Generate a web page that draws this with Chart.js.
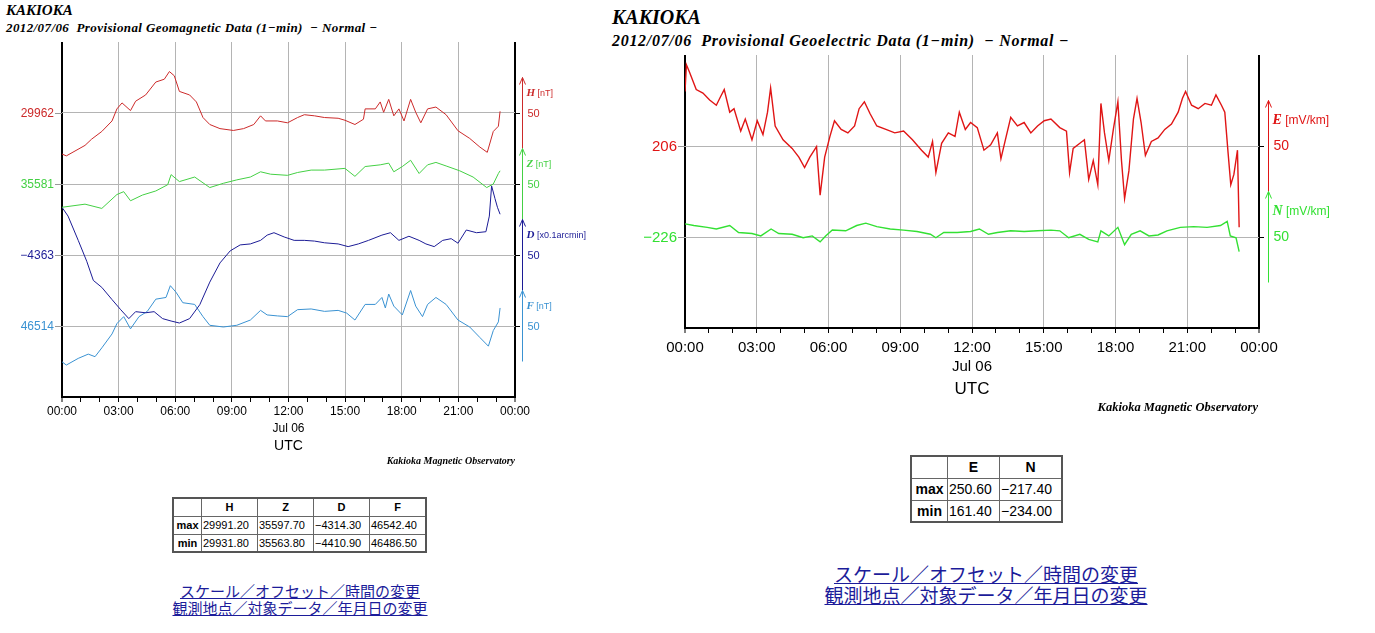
<!DOCTYPE html>
<html>
<head>
<meta charset="utf-8">
<script src="https://cdn.jsdelivr.net/npm/chart.js@4.4.1/dist/chart.umd.min.js"></script>
<style>
  body { margin: 0; background: #fff; width: 1375px; height: 633px; overflow: hidden; position: relative;
         font-family: "Liberation Sans", Arial, sans-serif; }
  .abs { position: absolute; white-space: pre; }
  .serif { font-family: "Liberation Serif", "Times New Roman", serif; font-weight: bold; font-style: italic; color: #000; line-height: 1; }
  canvas { position: absolute; top: 0; }
  table.stats { position: absolute; border-collapse: collapse; border: 2px solid #555; color: #000; }
  table.stats td { border: 1px solid #666; padding: 0 1px; white-space: nowrap; }
  table.stats .hd { font-weight: bold; text-align: center; }
  .links { position: absolute; text-align: center; font-family: "Noto Sans CJK JP", sans-serif; color: #1c1c9a; white-space: nowrap; }
  .links a { color: #1c1c9a; text-decoration: underline; }
</style>
</head>
<body>

<div class="abs serif" style="left:6px; top:3px; font-size:15px;">KAKIOKA</div>
<div class="abs serif" style="left:6px; top:21px; font-size:13px; letter-spacing:0.4px;">2012/07/06  Provisional Geomagnetic Data (1−min)  − Normal −</div>
<canvas id="geomag" width="600" height="480" style="left:0px"></canvas>
<div class="abs serif" style="left:315px; top:456px; font-size:10px; width:200px; text-align:right;">Kakioka Magnetic Observatory</div>

<div class="abs serif" style="left:612px; top:7px; font-size:20px;">KAKIOKA</div>
<div class="abs serif" style="left:612px; top:33px; font-size:16px; letter-spacing:0.7px;">2012/07/06  Provisional Geoelectric Data (1−min)  − Normal −</div>
<canvas id="geoelec" width="760" height="430" style="left:600px"></canvas>
<div class="abs serif" style="left:1008px; top:401px; font-size:12.5px; width:250px; text-align:right;">Kakioka Magnetic Observatory</div>

<table class="stats" style="left:172px; top:497px; font-size:11px;">
  <tr style="height:18px"><td style="width:25px"></td><td class="hd" style="width:53px">H</td><td class="hd" style="width:53px">Z</td><td class="hd" style="width:53px">D</td><td class="hd" style="width:53px">F</td></tr>
  <tr style="height:18px"><td class="hd">max</td><td>29991.20</td><td>35597.70</td><td>−4314.30</td><td>46542.40</td></tr>
  <tr style="height:18px"><td class="hd">min</td><td>29931.80</td><td>35563.80</td><td>−4410.90</td><td>46486.50</td></tr>
</table>

<table class="stats" style="left:910px; top:455px; font-size:14px;">
  <tr style="height:22px"><td style="width:33px"></td><td class="hd" style="width:49px">E</td><td class="hd" style="width:59px">N</td></tr>
  <tr style="height:22px"><td class="hd">max</td><td>250.60</td><td>−217.40</td></tr>
  <tr style="height:22px"><td class="hd">min</td><td>161.40</td><td>−234.00</td></tr>
</table>

<div class="links" style="left:150px; width:300px; top:582px; font-size:15px; line-height:17px;">
  <a>スケール／オフセット／時間の変更</a><br><a>観測地点／対象データ／年月日の変更</a>
</div>
<div class="links" style="left:786px; width:400px; top:563px; font-size:19px; line-height:21px;">
  <a>スケール／オフセット／時間の変更</a><br><a>観測地点／対象データ／年月日の変更</a>
</div>

<script>
// ---- geomagnetic data (hours UTC, values) ----
const hTime = [0, 0.23, 1.22, 1.57, 2.11, 2.65, 2.91, 3.18, 3.63, 3.90, 4.43, 4.97, 5.42, 5.69, 5.95, 6.22, 6.76, 7.12, 7.47, 7.83, 8.37, 9.08, 9.62, 10.16, 10.52, 10.78, 11.41, 11.95, 12.48, 12.84, 13.38, 13.91, 14.63, 14.99, 15.52, 15.97, 16.06, 16.60, 16.86, 17.04, 17.31, 17.58, 17.85, 18.12, 18.47, 18.74, 19.01, 19.37, 19.81, 20.35, 20.98, 21.60, 22.14, 22.53, 22.85, 23.12, 23.21];
const hVal = [29933.1, 29931.8, 29939.2, 29943.6, 29949.0, 29956.4, 29964.9, 29969.1, 29963.7, 29970.3, 29974.7, 29983.8, 29985.8, 29991.2, 29988.2, 29977.2, 29974.7, 29969.8, 29958.8, 29953.9, 29951.0, 29949.7, 29951.0, 29953.9, 29960.0, 29956.4, 29956.4, 29955.1, 29958.8, 29960.8, 29960.0, 29958.8, 29958.3, 29956.9, 29953.9, 29957.6, 29964.9, 29964.9, 29969.8, 29962.5, 29971.6, 29960.0, 29964.9, 29956.4, 29971.6, 29962.5, 29955.1, 29964.9, 29966.2, 29960.8, 29949.5, 29944.1, 29938.0, 29934.3, 29949.0, 29952.7, 29963.2];

const zTime = [0, 1.22, 2.11, 2.91, 3.27, 3.63, 4.26, 4.97, 5.60, 5.78, 6.22, 7.03, 7.83, 8.55, 9.26, 9.98, 10.52, 11.05, 11.95, 12.48, 13.20, 13.91, 14.99, 15.52, 16.06, 16.86, 17.31, 17.58, 18.03, 18.47, 18.92, 19.37, 19.81, 20.35, 21.07, 21.78, 22.50, 22.85, 23.12, 23.21];
const zVal = [35564.6, 35566.8, 35563.8, 35573.6, 35575.6, 35569.2, 35573.2, 35576.1, 35580.5, 35587.6, 35582.7, 35585.9, 35578.5, 35581.5, 35583.9, 35585.9, 35589.6, 35587.9, 35587.1, 35589.1, 35590.8, 35590.8, 35592.0, 35586.4, 35593.3, 35594.5, 35595.7, 35589.6, 35593.3, 35597.7, 35588.4, 35594.5, 35596.2, 35593.7, 35590.3, 35585.9, 35578.5, 35581.0, 35588.4, 35590.3];

const dTime = [0, 0.32, 0.86, 1.31, 1.66, 2.11, 2.65, 3.09, 3.54, 3.90, 4.43, 4.88, 5.33, 5.78, 6.22, 6.76, 7.30, 7.83, 8.37, 8.91, 9.44, 9.98, 10.52, 10.87, 11.23, 11.77, 12.30, 12.84, 13.38, 13.91, 14.63, 15.16, 15.70, 16.24, 16.95, 17.40, 17.85, 18.38, 18.92, 19.28, 19.72, 20.17, 20.62, 20.98, 21.42, 21.96, 22.46, 22.64, 22.76, 22.94, 23.07, 23.21];
const dVal = [-4329.4, -4335.6, -4352.7, -4367.4, -4380.9, -4385.8, -4394.4, -4401.2, -4407.8, -4402.9, -4403.7, -4402.9, -4407.8, -4409.5, -4410.9, -4407.8, -4398.0, -4382.1, -4368.6, -4360.1, -4355.9, -4355.2, -4352.7, -4349.0, -4347.3, -4350.3, -4352.7, -4352.7, -4353.2, -4354.4, -4355.2, -4357.1, -4355.2, -4352.7, -4349.0, -4347.3, -4352.7, -4349.8, -4352.7, -4355.2, -4357.1, -4352.7, -4351.5, -4354.7, -4345.4, -4347.3, -4346.6, -4335.6, -4314.3, -4323.3, -4329.4, -4334.3];

const fTime = [0, 0.23, 0.86, 1.39, 1.75, 2.11, 2.65, 2.91, 3.27, 3.63, 4.08, 4.52, 4.97, 5.51, 5.74, 6.04, 6.40, 7.03, 7.47, 7.83, 8.55, 9.26, 9.98, 10.52, 10.87, 11.41, 11.95, 12.48, 13.20, 13.91, 14.63, 15.08, 15.52, 16.06, 16.60, 16.95, 17.13, 17.31, 17.58, 18.03, 18.47, 18.74, 19.10, 19.37, 19.81, 20.35, 20.98, 21.60, 22.14, 22.59, 22.85, 23.12, 23.21];
const fVal = [46488.8, 46486.5, 46491.2, 46494.2, 46492.4, 46498.6, 46508.4, 46515.7, 46520.6, 46512.0, 46520.6, 46524.3, 46532.9, 46534.1, 46542.4, 46537.8, 46530.4, 46529.2, 46520.6, 46514.5, 46513.3, 46514.5, 46518.2, 46525.0, 46521.8, 46521.1, 46520.6, 46525.5, 46526.0, 46524.3, 46525.0, 46523.1, 46518.2, 46529.2, 46529.2, 46534.1, 46526.7, 46536.5, 46528.0, 46521.8, 46539.0, 46528.0, 46520.6, 46529.2, 46534.1, 46529.2, 46518.2, 46513.3, 46505.9, 46499.8, 46510.8, 46516.9, 46526.7];

// ---- geoelectric data ----
const eTime = [0, 0.06, 0.19, 0.47, 0.75, 1.03, 1.31, 1.49, 1.64, 1.87, 2.05, 2.33, 2.52, 2.80, 3.02, 3.26, 3.45, 3.58, 3.77, 4.10, 4.48, 4.76, 5.00, 5.22, 5.50, 5.65, 5.84, 6.06, 6.25, 6.53, 6.81, 7.09, 7.28, 7.50, 7.74, 8.02, 8.40, 8.77, 9.14, 9.51, 9.89, 10.17, 10.35, 10.49, 10.73, 11.01, 11.29, 11.47, 11.72, 11.94, 12.22, 12.50, 12.78, 13.06, 13.21, 13.43, 13.62, 13.90, 14.18, 14.46, 14.74, 15.02, 15.30, 15.67, 15.95, 16.08, 16.23, 16.51, 16.70, 16.88, 17.07, 17.26, 17.39, 17.54, 17.72, 17.91, 18.10, 18.25, 18.38, 18.56, 18.75, 18.90, 19.07, 19.25, 19.50, 19.78, 20.06, 20.34, 20.62, 20.80, 20.93, 21.18, 21.46, 21.74, 22.01, 22.20, 22.43, 22.57, 22.71, 22.82, 22.95, 23.10, 23.17];
const eVal = [236.0, 250.6, 246.5, 237.0, 235.1, 231.3, 228.4, 233.2, 237.0, 224.6, 226.5, 214.2, 220.8, 209.4, 219.9, 212.3, 224.6, 237.9, 217.0, 209.4, 204.7, 199.9, 194.2, 199.9, 205.6, 179.0, 199.9, 211.3, 219.9, 215.1, 213.2, 217.0, 226.5, 230.3, 223.7, 217.0, 215.1, 213.2, 214.2, 209.4, 203.7, 199.9, 208.5, 191.4, 207.5, 213.2, 211.3, 224.6, 215.1, 218.9, 216.1, 203.7, 206.6, 213.2, 199.0, 211.3, 221.8, 217.0, 218.9, 213.2, 217.0, 219.9, 220.8, 216.1, 214.2, 191.4, 204.7, 207.5, 209.4, 187.6, 198.0, 184.7, 229.4, 213.2, 198.0, 215.1, 230.3, 198.0, 177.1, 192.3, 220.8, 232.2, 218.9, 200.9, 208.5, 210.4, 215.1, 218.0, 224.6, 232.2, 236.0, 228.4, 226.5, 229.4, 228.4, 234.1, 228.4, 224.6, 201.8, 184.7, 190.4, 203.7, 161.4];

const nTime = [0, 0.37, 0.93, 1.31, 1.87, 2.24, 2.80, 3.17, 3.60, 3.92, 4.48, 4.94, 5.32, 5.65, 5.88, 6.16, 6.72, 7.18, 7.56, 8.02, 8.58, 9.14, 9.70, 10.26, 10.49, 10.82, 11.38, 11.94, 12.31, 12.69, 13.06, 13.62, 14.18, 14.74, 15.30, 15.67, 16.04, 16.51, 16.88, 17.26, 17.39, 17.72, 18.10, 18.38, 18.66, 19.03, 19.40, 19.78, 20.15, 20.71, 21.27, 21.83, 22.39, 22.67, 22.80, 23.04, 23.17];
const nVal = [-218.8, -219.7, -220.7, -221.6, -219.7, -223.5, -224.1, -225.4, -221.6, -224.1, -224.5, -226.4, -225.4, -228.7, -225.4, -222.2, -222.6, -219.7, -218.4, -220.3, -221.6, -222.2, -223.0, -224.5, -226.4, -223.5, -223.5, -223.0, -221.6, -224.5, -223.5, -222.6, -223.0, -222.6, -222.2, -222.6, -226.4, -224.5, -227.3, -228.7, -222.6, -225.4, -220.7, -230.2, -224.5, -222.6, -225.4, -224.9, -222.6, -220.7, -220.3, -220.7, -219.7, -217.4, -225.4, -226.4, -234.0];

// offsets shown at the left of each panel, and the scale length (per grid band)
const magCenters = [29962, 35581, -4363, 46514];
const elecCenters = [206, -226];
const bandSpan = 50;

const toXY = (t, v) => t.map((x, i) => ({ x: x, y: v[i] }));
const fmtNum = v => (v < 0 ? '\u2212' + Math.abs(v) : String(v));

// draws the offset labels on the left, arrows + units on the right
const sideLabels = {
  id: 'sideLabels',
  afterDraw(chart, args, opts) {
    const ctx = chart.ctx;
    const area = chart.chartArea;
    opts.series.forEach(s => {
      const sc = chart.scales[s.axis];
      const y = Math.round(sc.getPixelForValue(s.center)) + 0.5;
      ctx.save();
      ctx.lineWidth = 1;
      ctx.strokeStyle = '#999';
      ctx.beginPath(); ctx.moveTo(area.left - 7, y); ctx.lineTo(area.left, y); ctx.stroke();
      ctx.strokeStyle = '#000';
      ctx.beginPath(); ctx.moveTo(area.right, y); ctx.lineTo(area.right + 5, y); ctx.stroke();

      ctx.fillStyle = s.color;
      ctx.textBaseline = 'middle';
      ctx.textAlign = 'right';
      ctx.font = opts.labelFont;
      ctx.fillText(fmtNum(s.center), area.left - 8, y);

      const ax = area.right + opts.arrowX + 0.5;
      const yTop = sc.getPixelForValue(s.center + bandSpan / 2);
      const yBot = sc.getPixelForValue(s.center - bandSpan / 2);
      ctx.strokeStyle = s.color;
      ctx.beginPath(); ctx.moveTo(ax, yBot); ctx.lineTo(ax, yTop); ctx.stroke();
      ctx.beginPath(); ctx.moveTo(ax - 3, yTop + 7); ctx.lineTo(ax, yTop); ctx.lineTo(ax + 3, yTop + 7); ctx.stroke();

      ctx.textAlign = 'left';
      ctx.font = opts.numFont;
      ctx.fillText(String(bandSpan), ax + 5, y);
      const yl = sc.getPixelForValue(s.center + bandSpan * 0.28);
      ctx.font = opts.letterFont;
      ctx.fillText(s.letter, ax + 4, yl);
      const w = ctx.measureText(s.letter).width;
      ctx.font = opts.unitFont;
      ctx.fillText(' ' + s.unit, ax + 4 + w, yl);
      ctx.restore();
    });
  }
};

function hourLabel(v) {
  if (v % 3 !== 0) return '';
  const s = String(v % 24).padStart(2, '0') + ':00';
  return v === 12 ? [s, 'Jul 06'] : s;
}

function timeAxis(fontSize, lineH, tickPad, height, titleSize) {
  return {
    type: 'linear', min: 0, max: 24,
    afterFit: scale => { scale.height = height; },
    ticks: { stepSize: 1, autoSkip: false, maxRotation: 0, minRotation: 0, padding: tickPad,
             color: '#000', font: { family: '"Liberation Sans", Arial, sans-serif', size: fontSize, lineHeight: lineH },
             callback: v => hourLabel(v) },
    grid: {
      color: c => (c.tick && (c.tick.value === 0 || c.tick.value === 24)) ? '#000'
                  : (c.tick && c.tick.value % 3 === 0 ? '#b4b4b4' : 'rgba(0,0,0,0)'),
      lineWidth: c => (c.tick && (c.tick.value === 0 || c.tick.value === 24)) ? 2 : 1,
      tickColor: '#000', tickWidth: 1, tickLength: 5
    },
    border: { display: true, color: '#000', width: 2 },
    title: { display: true, text: 'UTC', color: '#000', padding: { top: 2, bottom: 5 },
             font: { family: '"Liberation Sans", Arial, sans-serif', size: titleSize } }
  };
}

function bandAxis(center, bandsAbove, bandsTotal, showGrid) {
  const max = center + bandsAbove * bandSpan;
  const min = max - bandsTotal * bandSpan;
  return {
    type: 'linear', min: min, max: max, display: showGrid,
    ticks: { display: false, stepSize: bandSpan },
    grid: { drawTicks: false,
            color: c => (c.tick && (c.tick.value === min || c.tick.value === max)) ? 'rgba(0,0,0,0)' : '#b4b4b4' },
    border: { display: false }
  };
}

const lineStyle = (color, w) => ({ borderColor: color, borderWidth: w, pointRadius: 0, tension: 0, fill: false });

const magColors = ['#cc2a2a', '#44d044', '#1c1c96', '#3a92d2'];
const elecColors = ['#e01515', '#33e033'];

new Chart(document.getElementById('geomag'), {
  type: 'line',
  data: {
    datasets: [
      { data: toXY(hTime, hVal), yAxisID: 'yH', ...lineStyle(magColors[0], 1) },
      { data: toXY(zTime, zVal), yAxisID: 'yZ', ...lineStyle(magColors[1], 1) },
      { data: toXY(dTime, dVal), yAxisID: 'yD', ...lineStyle(magColors[2], 1) },
      { data: toXY(fTime, fVal), yAxisID: 'yF', ...lineStyle(magColors[3], 1) }
    ]
  },
  options: {
    responsive: false, animation: false, devicePixelRatio: 1,
    layout: { padding: { left: 62, right: 85, top: 42, bottom: 20 } },
    scales: {
      x: timeAxis(12, 1.35, 2, 63, 14),
      yH: bandAxis(magCenters[0], 1, 5, true),
      yZ: bandAxis(magCenters[1], 2, 5, false),
      yD: bandAxis(magCenters[2], 3, 5, false),
      yF: bandAxis(magCenters[3], 4, 5, false)
    },
    plugins: {
      legend: { display: false }, tooltip: { enabled: false },
      sideLabels: {
        arrowX: 7, labelFont: '12px "Liberation Sans", Arial, sans-serif',
        numFont: '11px "Liberation Sans", Arial, sans-serif',
        letterFont: 'bold italic 11px "Liberation Serif", serif',
        unitFont: '9px "Liberation Sans", Arial, sans-serif',
        series: [
          { axis: 'yH', center: magCenters[0], color: magColors[0], letter: 'H', unit: '[nT]' },
          { axis: 'yZ', center: magCenters[1], color: magColors[1], letter: 'Z', unit: '[nT]' },
          { axis: 'yD', center: magCenters[2], color: magColors[2], letter: 'D', unit: '[x0.1arcmin]' },
          { axis: 'yF', center: magCenters[3], color: magColors[3], letter: 'F', unit: '[nT]' }
        ]
      }
    }
  },
  plugins: [sideLabels]
});

new Chart(document.getElementById('geoelec'), {
  type: 'line',
  data: {
    datasets: [
      { data: toXY(eTime, eVal), yAxisID: 'yE', ...lineStyle(elecColors[0], 1.4) },
      { data: toXY(nTime, nVal), yAxisID: 'yN', ...lineStyle(elecColors[1], 1.4) }
    ]
  },
  options: {
    responsive: false, animation: false, devicePixelRatio: 1,
    layout: { padding: { left: 85, right: 101, top: 55, bottom: 25 } },
    scales: {
      x: timeAxis(15, 1.3, 5, 77, 17),
      yE: bandAxis(elecCenters[0], 1, 3, true),
      yN: bandAxis(elecCenters[1], 2, 3, false)
    },
    plugins: {
      legend: { display: false }, tooltip: { enabled: false },
      sideLabels: {
        arrowX: 9, labelFont: '15px "Liberation Sans", Arial, sans-serif',
        numFont: '14px "Liberation Sans", Arial, sans-serif',
        letterFont: 'bold italic 14px "Liberation Serif", serif',
        unitFont: '12px "Liberation Sans", Arial, sans-serif',
        series: [
          { axis: 'yE', center: elecCenters[0], color: elecColors[0], letter: 'E', unit: '[mV/km]' },
          { axis: 'yN', center: elecCenters[1], color: elecColors[1], letter: 'N', unit: '[mV/km]' }
        ]
      }
    }
  },
  plugins: [sideLabels]
});
</script>
</body>
</html>
